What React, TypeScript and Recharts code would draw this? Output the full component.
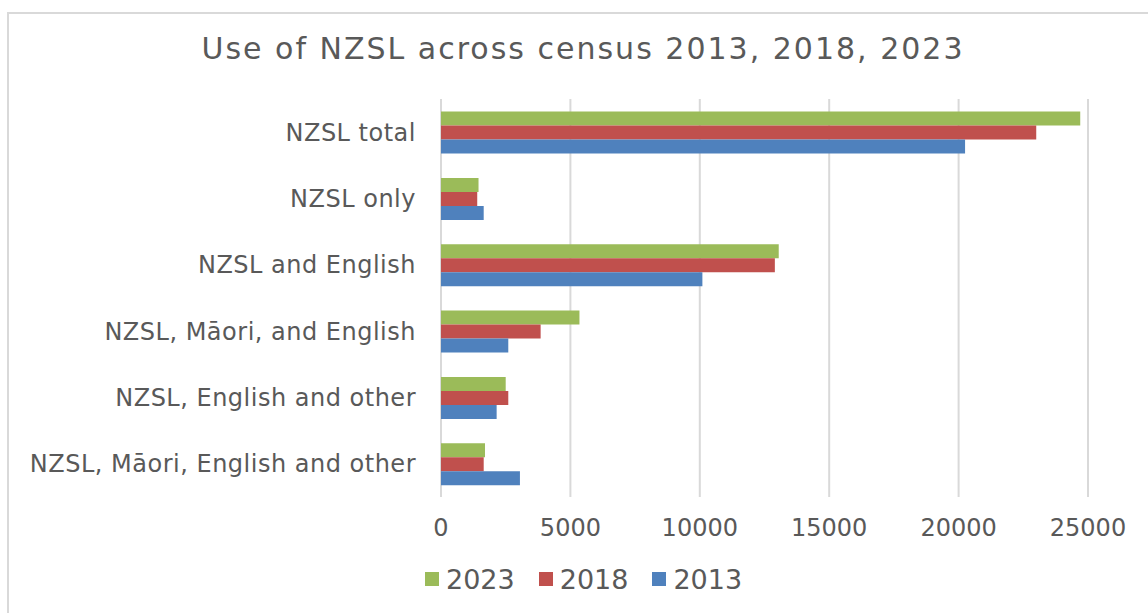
import React from "react"
import { Bar, BarChart, CartesianGrid, Legend, XAxis, YAxis } from "recharts"

const categories = [
  "NZSL total",
  "NZSL only",
  "NZSL and English",
  "NZSL, Māori, and English",
  "NZSL, English and other",
  "NZSL, Māori, English and other",
]
const values2023 = [24700, 1450, 13050, 5350, 2500, 1700]
const values2018 = [23000, 1400, 12900, 3850, 2600, 1650]
const values2013 = [20250, 1650, 10100, 2600, 2150, 3050]
const xTicks = [0, 5000, 10000, 15000, 20000, 25000]

const series = [
  { key: "2023", color: "#9BBB59" },
  { key: "2018", color: "#C0504D" },
  { key: "2013", color: "#4F81BD" },
]

const data = categories.map((name, i) => ({
  name,
  "2023": values2023[i],
  "2018": values2018[i],
  "2013": values2013[i],
}))

const FONT = "'DejaVu Sans', Verdana, sans-serif"
const TEXT = "#595959"

function LegendContent() {
  return (
    <div
      style={{
        display: "flex",
        justifyContent: "flex-start",
        alignItems: "center",
        height: 34,
        paddingLeft: 425,
        fontFamily: FONT,
        fontSize: 27,
        color: TEXT,
      }}
    >
      {series.map((s) => (
        <div key={s.key} style={{ display: "flex", alignItems: "center", marginRight: 24 }}>
          <span style={{ width: 14, height: 14, background: s.color, display: "inline-block", marginRight: 7 }} />
          <span>{s.key}</span>
        </div>
      ))}
    </div>
  )
}

export default function App() {
  return (
    <div style={{ position: "absolute", left: 0, top: 0, width: 1148, height: 613, background: "#fff", overflow: "hidden" }}>
      <div
        style={{
          position: "absolute",
          left: 7,
          top: 12,
          width: 1160,
          height: 620,
          border: "2px solid #D9D9D9",
          boxSizing: "border-box",
        }}
      />
      <div
        style={{
          position: "absolute",
          left: 0,
          top: 31,
          width: 1166,
          textAlign: "center",
          fontFamily: FONT,
          fontSize: 30,
          letterSpacing: 2,
          color: TEXT,
        }}
      >
        Use of NZSL across census 2013, 2018, 2023
      </div>
      <div style={{ position: "absolute", left: 0, top: 0 }}>
        <BarChart
          width={1148}
          height={613}
          data={data}
          layout="vertical"
          margin={{ top: 99, right: 60, bottom: 17, left: 0 }}
          barCategoryGap="19%"
          barGap={0}
        >
          <CartesianGrid horizontal={false} stroke="#D9D9D9" strokeWidth={2} />
          <XAxis
            type="number"
            domain={[0, 25000]}
            ticks={xTicks}
            axisLine={false}
            tickLine={false}
            tickSize={0}
            tickMargin={22}
            height={65}
            tick={{ fill: TEXT, fontSize: 24, fontFamily: FONT }}
          />
          <YAxis
            type="category"
            dataKey="name"
            width={441}
            axisLine={false}
            tickLine={false}
            tickSize={0}
            tickMargin={25}
            interval={0}
            tick={{ fill: TEXT, fontSize: 24, fontFamily: FONT, letterSpacing: 0.5 }}
          />
          <Legend
            verticalAlign="bottom"
            height={34}
            wrapperStyle={{ left: 0, width: 1148 }}
            content={<LegendContent />}
          />
          {series.map((s) => (
            <Bar key={s.key} dataKey={s.key} fill={s.color} isAnimationActive={false} />
          ))}
        </BarChart>
      </div>
    </div>
  )
}
